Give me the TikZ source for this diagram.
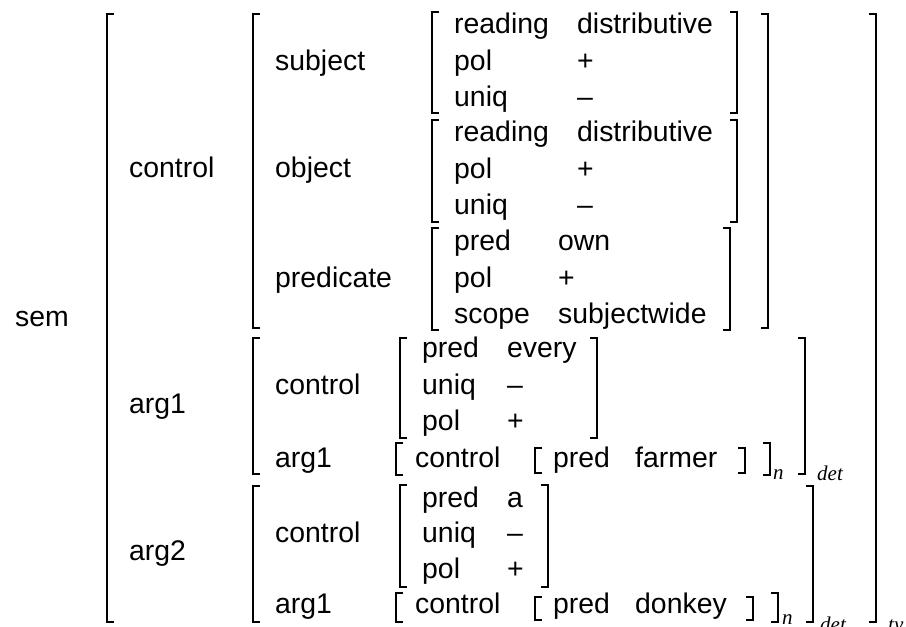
\documentclass[tikz,border=0pt]{standalone}
\usepackage{fontspec}
\setmainfont{Liberation Sans}
\newfontfamily\tyfont{Liberation Serif}
\tikzset{
  feat/.style={anchor=base west, inner sep=0pt, font=\fontsize{28.4}{34}\selectfont},
  tyname/.style={anchor=base west, inner sep=0pt, font=\fontsize{21}{25}\tyfont\itshape},
  brkt/.style={line width=1.3pt},
}
% brackets: x, top, bottom
\newcommand{\lbrk}[3]{\draw[brkt] (#1+7,#2) -- (#1,#2) -- (#1,#3) -- (#1+7,#3);}
\newcommand{\rbrk}[3]{\draw[brkt] (#1-7,#2) -- (#1,#2) -- (#1,#3) -- (#1-7,#3);}

\begin{document}
\begin{tikzpicture}[x=1pt, y=-1pt]
\useasboundingbox (0,0) rectangle (906,627);
\clip (0,0) rectangle (906,627);

% ================= SEM =================
\node[feat] (sem) at (15,326) {sem};
\lbrk{107}{14}{622} \rbrk{876}{14}{622}
\node[tyname] (sem-ty) at (888,631) {ty};
\foreach \lab/\y [count=\i] in {control/177, arg1/413, arg2/560}
  \node[feat] (top-\i) at (129,\y) {\lab};

% ================= CONTROL =================
\lbrk{253}{14}{328} \rbrk{768}{14}{328}
\foreach \lab/\y [count=\i] in {subject/70, object/177, predicate/287}
  \node[feat] (ctl-\i) at (275,\y) {\lab};
% subject and object
\foreach \nm/\top/\bot in {subj/12/113, obj/120/222} {
  \lbrk{432}{\top}{\bot} \rbrk{737}{\top}{\bot}
  \foreach \k/\v/\dy [count=\i] in {reading/distributive/21, pol/+/58, uniq/\textendash/94} {
    \node[feat] (\nm-k\i) at (454,\top+\dy) {\k};
    \node[feat] (\nm-v\i) at (577,\top+\dy) {\v};
  }
}
% predicate
\lbrk{432}{228}{330} \rbrk{730}{228}{330}
\foreach \k/\v/\y [count=\i] in {pred/own/250, pol/+/287, scope/subjectwide/323} {
  \node[feat] (pr-k\i) at (454,\y) {\k};
  \node[feat] (pr-v\i) at (558,\y) {\v};
}

% ================= ARG1 =================
\lbrk{253}{338}{474} \rbrk{805}{338}{474}
\node[tyname] (a1-det) at (817,480) {det};
\node[feat] (a1-ctl) at (275,394) {control};
\lbrk{400}{338}{438} \rbrk{597}{338}{438}
\foreach \k/\v/\y [count=\i] in {pred/every/357, uniq/\textendash/394, pol/+/430} {
  \node[feat] (a1-k\i) at (422,\y) {\k};
  \node[feat] (a1-v\i) at (507,\y) {\v};
}
\node[feat] (a1-arg) at (275,467) {arg1};
\lbrk{396}{443}{475} \rbrk{770}{443}{475}
\node[feat] (a1-nctl) at (415,467) {control};
\lbrk{535}{448}{473} \rbrk{745}{448}{473}
\node[feat] (a1-pred) at (553,467) {pred};
\node[feat] (a1-noun) at (635,467) {farmer};
\node[tyname] (a1-n) at (773,479) {n};

% ================= ARG2 =================
\lbrk{253}{486}{622} \rbrk{813}{486}{622}
\node[tyname] (a2-det) at (820,631) {det};
\node[feat] (a2-ctl) at (275,542) {control};
\lbrk{400}{485}{587} \rbrk{548}{485}{587}
\foreach \k/\v/\y [count=\i] in {pred/a/507, uniq/\textendash/542, pol/+/578} {
  \node[feat] (a2-k\i) at (422,\y) {\k};
  \node[feat] (a2-v\i) at (507,\y) {\v};
}
\node[feat] (a2-arg) at (275,613) {arg1};
\lbrk{396}{593}{622} \rbrk{778}{593}{622}
\node[feat] (a2-nctl) at (415,613) {control};
\lbrk{535}{597}{620} \rbrk{753}{597}{620}
\node[feat] (a2-pred) at (553,613) {pred};
\node[feat] (a2-noun) at (635,613) {donkey};
\node[tyname] (a2-n) at (782,624) {n};

\end{tikzpicture}
\end{document}
